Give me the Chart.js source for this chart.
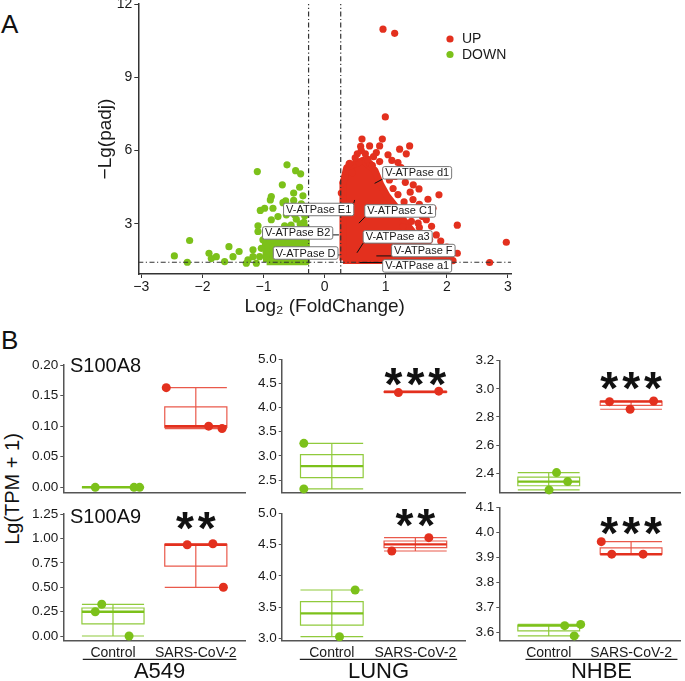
<!DOCTYPE html>
<html>
<head>
<meta charset="utf-8">
<script src="https://cdn.jsdelivr.net/npm/chart.js@4.4.1/dist/chart.umd.min.js"></script>
<style>
  body { margin: 0; background: #fff; width: 685px; height: 681px; position: relative; overflow: hidden;
         font-family: "Liberation Sans", Arial, sans-serif; }
  canvas { position: absolute; }
  .txt { position: absolute; color: #111; line-height: 1; white-space: nowrap; }
</style>
</head>
<body>
<div class="txt" style="left:1px;top:11px;font-size:26px">A</div>
<div class="txt" style="left:1px;top:327px;font-size:26px">B</div>
<div class="txt" id="ytitle" style="left:12px;top:489px;font-size:20px;transform:translate(-50%,-50%) rotate(-90deg)">Lg(TPM + 1)</div>

<canvas id="volcano" width="685" height="320" style="left:0;top:0"></canvas>
<canvas id="p1" width="250" height="175" style="left:0;top:330px"></canvas>
<canvas id="p2" width="220" height="175" style="left:250px;top:330px"></canvas>
<canvas id="p3" width="215" height="175" style="left:470px;top:330px"></canvas>
<canvas id="p4" width="250" height="186" style="left:0;top:495px"></canvas>
<canvas id="p5" width="220" height="186" style="left:250px;top:495px"></canvas>
<canvas id="p6" width="215" height="186" style="left:470px;top:495px"></canvas>

<script>
// ---------- A: volcano plot ----------
const xTicks = [-3, -2, -1, 0, 1, 2, 3];
const yTicks = [3, 6, 9, 12];
const fcCut = 0.263;
const padjCut = 1.43;

// scattered UP genes
const upX = [0.955, 1.146, 0.993, 0.611, 0.944, 0.589, 0.736, 0.900, 1.391, 1.227, 0.535, 0.666, 0.846, 1.037, 1.336,
  0.409, 0.562, 0.736, 0.900, 1.200, 1.544, 1.691, 1.871, 1.609, 1.446, 1.773, 1.500, 1.664, 1.530, 2.171, 1.282,
  1.827, 1.718, 1.964, 2.171, 2.973, 2.700, 1.746, 0.300, 0.273, 0.40, 0.50, 0.70, 0.78, 0.45, 1.00, 1.06, 1.12,
  1.20, 1.30, 1.36, 1.42, 1.55, 1.62, 1.70, 1.85, 1.95, 2.06, 0.33, 1.39, 1.15, 0.60, 0.80, 1.10, 1.25, 1.32,
  1.45, 1.40, 1.55, 1.60, 1.75, 1.90, 2.00, 1.80, 2.10];
const upY = [10.97, 10.80, 7.38, 6.47, 6.47, 6.17, 6.19, 6.19, 6.19, 6.06, 5.87, 5.87, 5.92, 5.83, 5.87,
  5.48, 5.51, 5.48, 5.55, 5.51, 4.43, 4.01, 4.19, 4.97, 4.00, 3.64, 3.44, 3.17, 3.03, 2.95, 2.89,
  2.55, 2.35, 1.94, 1.80, 2.25, 1.42, 1.66, 4.69, 4.26, 5.45, 5.70, 5.65, 5.40, 5.10, 5.20, 4.80, 4.45,
  4.20, 3.90, 3.50, 3.10, 2.85, 2.60, 2.10, 2.00, 1.70, 1.58, 4.90, 5.07, 4.94, 6.00, 5.75, 5.60, 5.30, 4.70,
  4.60, 4.30, 3.80, 3.30, 2.90, 2.30, 2.05, 1.55, 1.50];

// scattered DOWN genes
const downX = [-0.616, -1.102, -0.475, -0.393, -0.693, -0.409, -0.507, -0.355, -0.873, -0.889, -0.638, -0.507,
  -0.682, -0.382, -0.846, -0.982, -1.053, -0.627, -0.491, -0.327, -0.764, -0.873, -0.464, -1.091, -0.655, -0.338,
  -1.091, -0.955, -2.21, -1.566, -2.46, -1.893, -1.773, -1.855, -1.40, -1.50, -1.173, -1.173, -1.255, -2.248,
  -1.637, -1.282, -1.118, -1.064, -1.036, -1.01, -0.90, -0.75, -0.60, -0.40, -0.80, -0.55];
const downY = [5.42, 5.14, 5.18, 5.05, 4.60, 4.50, 4.26, 4.15, 4.12, 3.98, 3.94, 3.96,
  3.87, 3.82, 3.64, 3.64, 3.55, 3.37, 3.37, 3.33, 3.30, 3.17, 3.19, 2.92, 2.92, 3.06,
  2.69, 2.76, 2.32, 2.07, 1.69, 1.80, 1.66, 1.58, 1.87, 1.66, 1.94, 1.66, 1.53, 1.43,
  1.46, 1.39, 1.39, 1.66, 2.00, 2.35, 2.55, 2.60, 2.70, 3.00, 2.75, 2.95];

// outline of the solid mass of overlapping points
const upCoreX = [0.30, 0.30, 0.36, 0.62, 0.82, 0.92, 1.02, 1.15, 1.28, 1.45, 1.62, 1.82, 1.98, 0.30];
const upCoreY = [1.50, 4.65, 5.30, 5.60, 5.20, 4.60, 4.15, 3.75, 3.20, 2.65, 2.25, 1.80, 1.50, 1.50];
const downCoreX = [-0.95, -0.97, -0.85, -0.70, -0.55, -0.45, -0.30, -0.30, -0.95];
const downCoreY = [1.45, 2.25, 2.35, 2.45, 2.50, 2.75, 2.85, 1.45, 1.45];

const tagNames = ['V-ATPase d1', 'V-ATPase E1', 'V-ATPase C1', 'V-ATPase B2', 'V-ATPase a3', 'V-ATPase D', 'V-ATPase F', 'V-ATPase a1'];
const tagGeneX = [0.818, 0.491, 0.561, 0.234, 0.529, 0.245, 0.846, 0.573];
const tagGeneY = [4.66, 3.98, 3.03, 2.55, 1.82, 1.73, 1.69, 1.42];
const tagBoxX = [1.514, -0.098, 1.236, -0.442, 1.195, -0.311, 1.615, 1.514];
const tagBoxY = [5.09, 3.59, 3.53, 2.63, 2.47, 1.81, 1.91, 1.28];

// ---------- B: expression boxes ----------
const groups = ['Control', 'SARS-CoV-2'];

const a549A8Ctrl = [0.0, 0.0, 0.0],        a549A8CtrlJit = [0.786, 1.254, 1.321];
const a549A8Sars = [0.163, 0.100, 0.096],  a549A8SarsJit = [1.643, 2.155, 2.317];
const lungA8Ctrl = [3.26, 2.315],          lungA8CtrlJit = [0.665, 0.665];
const lungA8Sars = [4.31, 4.34],           lungA8SarsJit = [1.797, 2.28];
const nhbeA8Ctrl = [2.405, 2.341, 2.282],  nhbeA8CtrlJit = [1.095, 1.23, 1.004];
const nhbeA8Sars = [2.909, 2.914, 2.855],  nhbeA8SarsJit = [1.738, 2.274, 1.988];

const a549A9Ctrl = [0.325, 0.249, 0.0],    a549A9CtrlJit = [0.864, 0.786, 1.194];
const a549A9Sars = [0.935, 0.945, 0.499],  a549A9SarsJit = [1.896, 2.206, 2.333];
const lungA9Ctrl = [3.773, 3.026],         lungA9CtrlJit = [1.279, 1.092];
const lungA9Sars = [4.397, 4.61],          lungA9SarsJit = [1.718, 2.161];
const nhbeA9Ctrl = [3.628, 3.633, 3.587],  nhbeA9CtrlJit = [1.194, 1.388, 1.31];
const nhbeA9Sars = [3.963, 3.913, 3.913],  nhbeA9SarsJit = [1.638, 1.765, 2.146];

const a549A8Ticks = [0, 0.05, 0.10, 0.15, 0.20];
const lungA8Ticks = [2.5, 3.0, 3.5, 4.0, 4.5, 5.0];
const nhbeA8Ticks = [2.4, 2.6, 2.8, 3.0, 3.2];
const a549A9Ticks = [0, 0.25, 0.50, 0.75, 1.00, 1.25];
const lungA9Ticks = [3.0, 3.5, 4.0, 4.5, 5.0];
const nhbeA9Ticks = [3.6, 3.7, 3.8, 3.9, 4.0, 4.1];

const RED = '#e3301e';
const GREEN = '#7cc11a';
const FONT = '"Liberation Sans", Arial, sans-serif';

Chart.defaults.font.family = FONT;
Chart.defaults.color = '#1a1a1a';

const xy = (xs, ys) => xs.map((v, i) => ({x: v, y: ys[i]}));

// labels with leader lines
const tagPlugin = {
  id: 'tags',
  afterDatasetsDraw(chart) {
    const {ctx, scales: {x, y}} = chart;
    ctx.save();
    ctx.font = '11px ' + FONT;
    tagNames.forEach((t, i) => {
      const cx = x.getPixelForValue(tagBoxX[i]), cy = y.getPixelForValue(tagBoxY[i]);
      const px = x.getPixelForValue(tagGeneX[i]), py = y.getPixelForValue(tagGeneY[i]);
      const w = ctx.measureText(t).width + 5, h = 12.5;
      const bx = cx - w / 2, by = cy - h / 2;
      const ex = Math.min(Math.max(px, bx), bx + w), ey = Math.min(Math.max(py, by), by + h);
      ctx.strokeStyle = '#111';
      ctx.lineWidth = 1;
      ctx.beginPath(); ctx.moveTo(px, py); ctx.lineTo(ex, ey); ctx.stroke();
      ctx.beginPath();
      ctx.roundRect(bx, by, w, h, 2);
      ctx.fillStyle = '#fff'; ctx.fill();
      ctx.strokeStyle = '#777'; ctx.stroke();
      ctx.fillStyle = '#1a1a1a';
      ctx.textAlign = 'center'; ctx.textBaseline = 'middle';
      ctx.fillText(t, cx, cy + 0.5);
    });
    // legend
    const area = chart.chartArea;
    ctx.font = '14px ' + FONT;
    ctx.textAlign = 'left';
    [['UP', RED, 39], ['DOWN', GREEN, 54.5]].forEach(([lab, col, ly]) => {
      ctx.fillStyle = col;
      ctx.beginPath(); ctx.arc(area.right - 61, ly, 3.6, 0, Math.PI * 2); ctx.fill();
      ctx.fillStyle = '#1a1a1a';
      ctx.fillText(lab, area.right - 49, ly + 0.5);
    });
    ctx.restore();
  }
};

const vMin = 0.95, vMax = 12, hMin = -3.05, hMax = 3.05;
const cutStyle = {type: 'line', borderColor: '#333', borderWidth: 1.2, borderDash: [5, 2.5, 1.2, 2.5],
  pointRadius: 0, order: 0, clip: false};

new Chart(document.getElementById('volcano'), {
  type: 'scatter',
  data: {
    datasets: [
      {...cutStyle, data: [{x: -fcCut, y: vMin}, {x: -fcCut, y: vMax}]},
      {...cutStyle, data: [{x: fcCut, y: vMin}, {x: fcCut, y: vMax}]},
      {...cutStyle, data: [{x: hMin, y: padjCut}, {x: hMax, y: padjCut}]},
      {label: 'UP', data: xy(upX, upY), backgroundColor: RED, pointRadius: 3.6, pointBorderWidth: 0, order: 1},
      {label: 'DOWN', data: xy(downX, downY), backgroundColor: GREEN, pointRadius: 3.6, pointBorderWidth: 0, order: 1},
      {type: 'line', data: xy(upCoreX, upCoreY), fill: 'shape', backgroundColor: RED, borderColor: RED,
        borderWidth: 7, borderJoinStyle: 'round', pointRadius: 0, tension: 0, order: 2},
      {type: 'line', data: xy(downCoreX, downCoreY), fill: 'shape', backgroundColor: GREEN, borderColor: GREEN,
        borderWidth: 7, borderJoinStyle: 'round', pointRadius: 0, tension: 0, order: 2}
    ]
  },
  options: {
    responsive: false,
    animation: false,
    layout: {padding: {left: 0, right: 174, top: 4, bottom: 0}},
    plugins: {legend: {display: false}, tooltip: {enabled: false}},
    scales: {
      x: {
        type: 'linear', min: hMin, max: hMax,
        afterBuildTicks: s => { s.ticks = xTicks.map(v => ({value: v})); },
        ticks: {callback: v => String(v).replace('-', '\u2212'), font: {size: 14}, padding: 1, maxRotation: 0, autoSkip: false},
        grid: {drawOnChartArea: false, tickLength: 4, tickColor: '#333'},
        border: {color: '#333', width: 1.5},
        title: {display: true, text: 'Log\u2082 (FoldChange)', font: {size: 19}, padding: {top: 0, bottom: 2}},
        afterFit: s => { s.height = 46; s.paddingLeft = 0; s.paddingRight = 0; }
      },
      y: {
        type: 'linear', min: vMin, max: vMax,
        afterBuildTicks: s => { s.ticks = yTicks.map(v => ({value: v})); },
        ticks: {font: {size: 14}, padding: 2},
        grid: {drawOnChartArea: false, tickLength: 4, tickColor: '#333'},
        border: {color: '#333', width: 1.5},
        title: {display: true, text: '\u2212Lg(padj)', font: {size: 19}, padding: {top: 94, bottom: 0}},
        afterFit: s => { s.width = 138.3; s.paddingTop = 0; s.paddingBottom = 0; }
      }
    }
  },
  plugins: [tagPlugin]
});

// ---------- box panels ----------
function quant(arr, p) {
  const s = [...arr].sort((a, b) => a - b);
  const h = (s.length - 1) * p, lo = Math.floor(h);
  return s[lo] + (s[Math.min(lo + 1, s.length - 1)] - s[lo]) * (h - lo);
}

function boxPlugin(cfg) {
  return {
    id: 'boxes',
    beforeDatasetsDraw(chart) {
      const {ctx, scales: {x, y}} = chart;
      ctx.save();
      [[cfg.ctrl, 1, 'rgba(124,193,26,0.85)', GREEN], [cfg.sars, 2, 'rgba(227,48,30,0.8)', RED]].forEach(([vals, c, line, strong]) => {
        const x0 = x.getPixelForValue(c - 0.375), x1 = x.getPixelForValue(c + 0.375), xm = x.getPixelForValue(c);
        const mn = y.getPixelForValue(Math.min(...vals)), mx = y.getPixelForValue(Math.max(...vals));
        const q1 = y.getPixelForValue(quant(vals, 0.25)), q3 = y.getPixelForValue(quant(vals, 0.75));
        const md = y.getPixelForValue(quant(vals, 0.5));
        ctx.strokeStyle = line;
        ctx.lineWidth = 1.2;
        ctx.beginPath();
        ctx.moveTo(xm, mn); ctx.lineTo(xm, mx);
        ctx.moveTo(x0, mn); ctx.lineTo(x1, mn);
        ctx.moveTo(x0, mx); ctx.lineTo(x1, mx);
        ctx.rect(x0, q3, x1 - x0, q1 - q3);
        ctx.stroke();
        ctx.strokeStyle = strong;
        ctx.lineWidth = 2.4;
        ctx.beginPath(); ctx.moveTo(x0, md); ctx.lineTo(x1, md); ctx.stroke();
      });
      ctx.restore();
    },
    afterDatasetsDraw(chart) {
      const {ctx, scales: {x, y}} = chart;
      ctx.save();
      if (cfg.stars) {
        ctx.font = 'bold 46px ' + FONT;
        ctx.letterSpacing = '4px';
        ctx.fillStyle = '#111';
        ctx.textAlign = 'center';
        ctx.textBaseline = 'alphabetic';
        const m = ctx.measureText(cfg.stars);
        const cy = y.getPixelForValue(cfg.starY);
        ctx.fillText(cfg.stars, x.getPixelForValue(2) + 2, cy + (m.actualBoundingBoxAscent - m.actualBoundingBoxDescent) / 2);
      }
      ctx.letterSpacing = '0px';
      if (cfg.gene) {
        ctx.font = '20px ' + FONT;
        ctx.fillStyle = '#111';
        ctx.textAlign = 'left';
        ctx.textBaseline = 'alphabetic';
        ctx.fillText(cfg.gene, x.getPixelForValue(0.48), y.getPixelForValue(cfg.geneY));
      }
      if (cfg.cell) {
        const b = chart.chartArea.bottom;
        ctx.strokeStyle = '#222';
        ctx.lineWidth = 1.2;
        ctx.beginPath();
        ctx.moveTo(x.getPixelForValue(cfg.cellSpan[0]), b + 18.6);
        ctx.lineTo(x.getPixelForValue(cfg.cellSpan[1]), b + 18.6);
        ctx.stroke();
        ctx.font = '22px ' + FONT;
        ctx.fillStyle = '#111';
        ctx.textAlign = 'center';
        ctx.textBaseline = 'middle';
        ctx.fillText(cfg.cell, x.getPixelForValue((cfg.cellSpan[0] + cfg.cellSpan[1]) / 2), b + 31.5);
      }
      ctx.restore();
    }
  };
}

function makePanel(id, cfg) {
  const pts = (vals, jit) => vals.map((v, i) => ({x: jit[i], y: v}));
  new Chart(document.getElementById(id), {
    type: 'scatter',
    data: {
      datasets: [
        {label: groups[0], data: pts(cfg.ctrl, cfg.ctrlJit), backgroundColor: GREEN, pointRadius: 4.5, pointBorderWidth: 0, clip: false},
        {label: groups[1], data: pts(cfg.sars, cfg.sarsJit), backgroundColor: RED, pointRadius: 4.5, pointBorderWidth: 0, clip: false}
      ]
    },
    options: {
      responsive: false,
      animation: false,
      layout: {padding: {left: 0, right: cfg.padRight, top: cfg.padTop, bottom: 0}},
      plugins: {legend: {display: false}, tooltip: {enabled: false}},
      scales: {
        x: {
          type: 'linear', min: 0.4, max: 2.6,
          afterBuildTicks: s => { s.ticks = [{value: 1}, {value: 2}]; },
          ticks: {display: cfg.bottomRow, callback: v => groups[v - 1], font: {size: 14}, padding: 4, maxRotation: 0, autoSkip: false},
          grid: {display: false, drawTicks: false},
          border: {color: '#555', width: 1.5},
          afterFit: s => { s.height = cfg.bottomRow ? 40.3 : 12.3; s.paddingLeft = 0; s.paddingRight = 0; }
        },
        y: {
          type: 'linear', min: cfg.yMin, max: cfg.yMax,
          afterBuildTicks: s => { s.ticks = cfg.ticks.map(v => ({value: v})); },
          ticks: {callback: v => v.toFixed(cfg.dec), font: {size: 13.5}, padding: 2},
          grid: {drawOnChartArea: false, tickLength: 3, tickColor: '#555'},
          border: {color: '#555', width: 1.5},
          afterFit: s => { s.width = cfg.axisW; s.paddingTop = 0; s.paddingBottom = 0; }
        }
      }
    },
    plugins: [boxPlugin(cfg)]
  });
}

makePanel('p1', {ctrl: a549A8Ctrl, ctrlJit: a549A8CtrlJit, sars: a549A8Sars, sarsJit: a549A8SarsJit,
  yMin: -0.0088, yMax: 0.20, ticks: a549A8Ticks, dec: 2, axisW: 63.3, padRight: 2, padTop: 35,
  bottomRow: false, gene: 'S100A8', geneY: 0.189});
makePanel('p2', {ctrl: lungA8Ctrl, ctrlJit: lungA8CtrlJit, sars: lungA8Sars, sarsJit: lungA8SarsJit,
  yMin: 2.237, yMax: 5.0, ticks: lungA8Ticks, dec: 1, axisW: 31.7, padRight: 3, padTop: 29.3,
  bottomRow: false, stars: '***', starY: 4.64});
makePanel('p3', {ctrl: nhbeA8Ctrl, ctrlJit: nhbeA8CtrlJit, sars: nhbeA8Sars, sarsJit: nhbeA8SarsJit,
  yMin: 2.262, yMax: 3.2, ticks: nhbeA8Ticks, dec: 1, axisW: 29.3, padRight: 1, padTop: 30.7,
  bottomRow: false, stars: '***', starY: 3.054});
makePanel('p4', {ctrl: a549A9Ctrl, ctrlJit: a549A9CtrlJit, sars: a549A9Sars, sarsJit: a549A9SarsJit,
  yMin: -0.048, yMax: 1.25, ticks: a549A9Ticks, dec: 2, axisW: 63.3, padRight: 2, padTop: 19,
  bottomRow: true, gene: 'S100A9', geneY: 1.155, stars: '**', starY: 1.18, cell: 'A549', cellSpan: [0.635, 2.49]});
makePanel('p5', {ctrl: lungA9Ctrl, ctrlJit: lungA9CtrlJit, sars: lungA9Sars, sarsJit: lungA9SarsJit,
  yMin: 2.962, yMax: 5.0, ticks: lungA9Ticks, dec: 1, axisW: 31.7, padRight: 3, padTop: 18.3,
  bottomRow: true, stars: '**', starY: 4.928, cell: 'LUNG', cellSpan: [0.617, 2.50]});
makePanel('p6', {ctrl: nhbeA9Ctrl, ctrlJit: nhbeA9CtrlJit, sars: nhbeA9Sars, sarsJit: nhbeA9SarsJit,
  yMin: 3.568, yMax: 4.1, ticks: nhbeA9Ticks, dec: 1, axisW: 29.3, padRight: 1, padTop: 12.3,
  bottomRow: true, stars: '***', starY: 4.026, cell: 'NHBE', cellSpan: [0.718, 2.563]});
</script>
</body>
</html>
